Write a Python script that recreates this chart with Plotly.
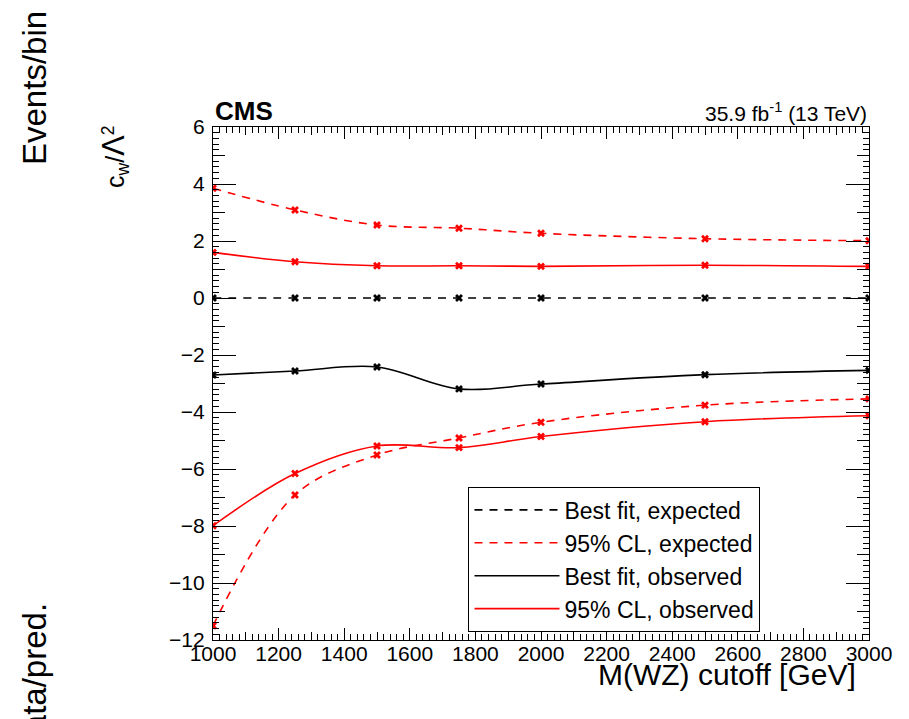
import plotly.graph_objects as go

# ---- data ----
cutoff = [1000, 1250, 1500, 1750, 2000, 2500, 3000]
best_exp = [0, 0, 0, 0, 0, 0, 0]
cl95_exp_up = [3.85, 3.09, 2.56, 2.45, 2.27, 2.08, 2.01]
cl95_exp_lo = [-11.50, -6.91, -5.51, -4.91, -4.36, -3.76, -3.54]
best_obs = [-2.70, -2.56, -2.42, -3.19, -3.02, -2.69, -2.54]
cl95_obs_up = [1.60, 1.27, 1.13, 1.13, 1.11, 1.15, 1.11]
cl95_obs_lo = [-7.99, -6.16, -5.19, -5.25, -4.86, -4.34, -4.13]

x_ticks = [1000, 1200, 1400, 1600, 1800, 2000, 2200, 2400, 2600, 2800, 3000]
y_ticks = [-12, -10, -8, -6, -4, -2, 0, 2, 4, 6]

FONT = "Liberation Sans, Arial, Helvetica, sans-serif"
RED = "#ff0000"
BLACK = "#000000"
DASH = "8px,7px"

fig = go.Figure()

def add(y, color, dash, name, show, group, xa="x", ya="y"):
    fig.add_trace(go.Scatter(
        x=cutoff, y=y, mode="lines", name=name,
        line=dict(color=color, width=1.6, dash=dash, shape="spline", smoothing=1.0),
        showlegend=show, legendgroup=group, xaxis=xa, yaxis=ya, hoverinfo="skip",
    ))
    fig.add_trace(go.Scatter(
        x=cutoff, y=y, mode="markers", name=name,
        marker=dict(symbol="x", size=7, color=color, line=dict(width=0)),
        showlegend=False, legendgroup=group, xaxis=xa, yaxis=ya,
    ))

add(best_exp, BLACK, DASH, "Best fit, expected", True, "be", "x2", "y2")
add(cl95_exp_up, RED, DASH, "95% CL, expected", True, "ce")
add(cl95_exp_lo, RED, DASH, "95% CL, expected", False, "ce")
add(best_obs, BLACK, "solid", "Best fit, observed", True, "bo")
add(cl95_obs_up, RED, "solid", "95% CL, observed", True, "co")
add(cl95_obs_lo, RED, "solid", "95% CL, observed", False, "co")

common = dict(showgrid=False, zeroline=False, showline=True, linecolor="black",
              linewidth=1.3, mirror="allticks", ticks="inside", tickcolor="black",
              tickwidth=1.3)

# page body has an 8px margin, so the figure is drawn 8px in from the top-left
fig.update_layout(
    width=901, height=711,
    margin=dict(l=205, r=40, t=119, b=79, autoexpand=False),
    paper_bgcolor="white", plot_bgcolor="white",
    font=dict(family=FONT, color="black"),
    xaxis=dict(range=[1000, 3000], tickvals=x_ticks, ticklen=12,
               tickfont=dict(size=21), ticklabelstandoff=-5,
               minor=dict(dtick=20, tick0=1000, ticklen=6, ticks="inside",
                          tickcolor="black", tickwidth=1.1),
               **common),
    yaxis=dict(range=[-12, 6], tickvals=y_ticks, ticklen=23,
               tickfont=dict(size=21), ticklabelstandoff=3,
               minor=dict(dtick=0.2, tick0=0, ticklen=6, ticks="inside",
                          tickcolor="black", tickwidth=1.1),
               **common),
    xaxis2=dict(range=[1000, 3000], overlaying="x", anchor="y", side="bottom",
                dtick=100, tick0=1000, ticklen=8, showticklabels=False,
                **common),
    yaxis2=dict(range=[-12, 6], overlaying="y", anchor="x", side="left",
                dtick=1, tick0=0, ticklen=12, showticklabels=False,
                **common),
    legend=dict(x=0.389, y=0.298, xanchor="left", yanchor="top",
                bgcolor="white", bordercolor="black", borderwidth=1.3,
                font=dict(size=23, family=FONT), tracegroupgap=0,
                itemwidth=85, entrywidth=268),
    showlegend=True,
)

ann = [
    dict(text="<b>CMS</b>", x=0, y=1.0, xref="paper", yref="paper",
         xanchor="left", yanchor="bottom", yshift=-1, font=dict(size=26), showarrow=False),
    dict(text="35.9 fb<sup>-1</sup> (13 TeV)", x=1.0, y=1.0, xref="paper", yref="paper",
         xanchor="right", yanchor="bottom", yshift=0, font=dict(size=21), showarrow=False),
    dict(text="M(WZ) cutoff [GeV]", x=(858 - 213) / 656, y=-(674 - 640) / 513,
         xref="paper", yref="paper", xanchor="right", yanchor="middle",
         font=dict(size=30), showarrow=False),
    dict(text='c<sub>w</sub>/<span style="font-size:31px">Λ</span><sup>2</sup>',
         x=-(213 - 114) / 656, y=(640 - 157) / 513,
         xref="paper", yref="paper", xanchor="center", yanchor="middle",
         textangle=-90, font=dict(size=25), showarrow=False),
    dict(text="Events/bin", x=-(213 - 34) / 656, y=(640 - 88) / 513,
         xref="paper", yref="paper", xanchor="center", yanchor="middle",
         textangle=-90, font=dict(size=33), showarrow=False),
    dict(text="Data/pred.", x=-(213 - 34) / 656, y=(640 - 680) / 513,
         xref="paper", yref="paper", xanchor="center", yanchor="middle",
         textangle=-90, font=dict(size=33), showarrow=False),
]
fig.update_layout(annotations=ann)

fig.write_html("out.html")
